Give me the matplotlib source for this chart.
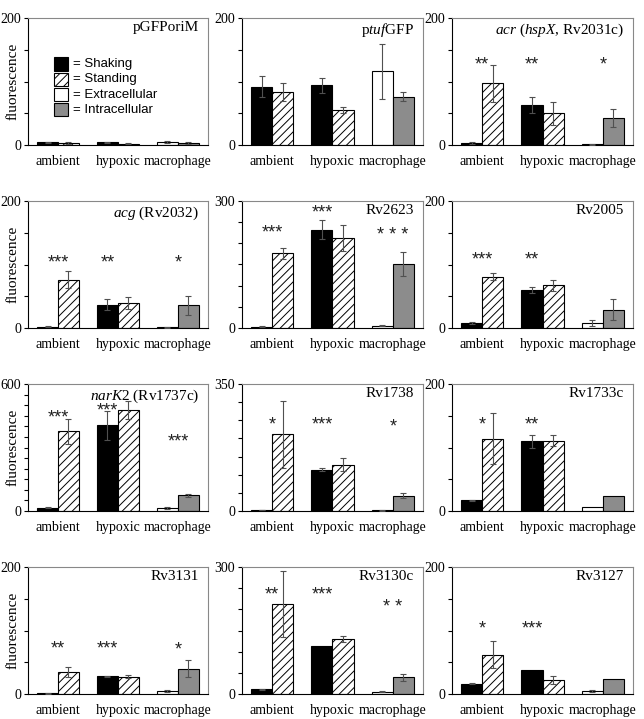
import numpy as np
import matplotlib
matplotlib.use("Agg")
import matplotlib.pyplot as plt
from matplotlib.patches import Rectangle

plt.rcParams["font.family"] = "Liberation Serif"
plt.rcParams["mathtext.fontset"] = "custom"
plt.rcParams["mathtext.rm"] = "Liberation Serif"
plt.rcParams["mathtext.it"] = "Liberation Serif:italic"
plt.rcParams["hatch.linewidth"] = 0.7

# ---- data -----------------------------------------------------------------
titles = ["pGFPoriM", r"p$\mathit{tuf}$GFP", r"$\mathit{acr}$ ($\mathit{hspX}$, Rv2031c)",
          r"$\mathit{acg}$ (Rv2032)", "Rv2623", "Rv2005",
          r"$\mathit{narK2}$ (Rv1737c)", "Rv1738", "Rv1733c",
          "Rv3131", "Rv3130c", "Rv3127"]
ymax  = [200, 200, 200, 200, 300, 200, 600, 350, 200, 200, 300, 200]
ystep = [50, 50, 50, 50, 50, 50, 50, 50, 50, 50, 50, 50]

categories = ["ambient", "hypoxic", "macrophage"]

shaking_ambient  = [4, 92, 3, 2, 3, 8, 16, 3, 17, 1, 11, 16]
standing_ambient = [3, 84, 97, 76, 176, 81, 376, 211, 114, 35, 213, 62]
shaking_hypoxic  = [4, 94, 63, 37, 232, 60, 404, 114, 110, 28, 114, 38]
standing_hypoxic = [2, 55, 50, 39, 212, 67, 479, 128, 111, 27, 131, 22]
extracellular    = [5, 116, 1, 1, 5, 8, 14, 2, 7, 4, 5, 4]
intracellular    = [3, 76, 42, 36, 152, 29, 74, 42, 24, 40, 39, 24]

err_shaking_ambient  = [1, 16, 1, 0.5, 1, 1, 3, 1, 1, 0.5, 1, 1]
err_standing_ambient = [1, 14, 29, 13, 12, 6, 61, 92, 40, 8, 78, 21]
err_shaking_hypoxic  = [1, 12, 13, 8.5, 22, 5, 68, 5, 10, 1, 0, 0]
err_standing_hypoxic = [0.5, 5, 18, 9.5, 31, 8.5, 42, 17, 9, 2.5, 7, 7]
err_extracellular    = [2, 43, 0.5, 0.5, 1, 5, 3, 1, 0, 1.6, 1, 1.6]
err_intracellular    = [1, 7, 14, 15, 28, 17, 8, 7.5, 0, 13.6, 9, 0]

stars = [["", "", ""], ["", "", ""], ["**", "**", "*"],
         ["***", "**", "*"], ["***", "***", "* * *"], ["***", "**", ""],
         ["***", "***", "***"], ["*", "***", "*"], ["*", "**", ""],
         ["**", "***", "*"], ["**", "***", "* *"], ["*", "***", ""]]
star_y = [[0, 0, 0], [0, 0, 0], [130, 130, 130],
          [107, 107, 107], [231, 278, 225], [112, 112, 0],
          [453, 488, 340], [244, 244, 241], [140, 140, 0],
          [75, 75, 74], [240, 240, 211], [107, 107, 0]]

legend_labels = ["= Shaking", "= Standing", "= Extracellular", "= Intracellular"]

# ---- styles ---------------------------------------------------------------
GREY = "#8c8c8c"
ERR  = "#505050"
styles = [dict(facecolor="black", hatch=None),
          dict(facecolor="white", hatch="////"),
          dict(facecolor="white", hatch=None),
          dict(facecolor=GREY, hatch=None)]

W, H = 644, 719
col_left = [28, 242, 452]
col_w = [180, 181, 181]
row_top = [18, 201, 384, 567]
row_h = 127
BW = 0.35

fig = plt.figure(figsize=(W / 100, H / 100), dpi=100)

for i in range(12):
    r, c = divmod(i, 3)
    ax = fig.add_axes([col_left[c] / W, 1 - (row_top[r] + row_h) / H,
                       col_w[c] / W, row_h / H])

    groups = [
        (0, shaking_ambient[i], err_shaking_ambient[i], 0),
        (0, standing_ambient[i], err_standing_ambient[i], 1),
        (1, shaking_hypoxic[i], err_shaking_hypoxic[i], 0),
        (1, standing_hypoxic[i], err_standing_hypoxic[i], 1),
        (2, extracellular[i], err_extracellular[i], 2),
        (2, intracellular[i], err_intracellular[i], 3),
    ]
    for k, (gx, val, err, st) in enumerate(groups):
        xpos = gx + (-BW / 2 if k % 2 == 0 else BW / 2)
        ax.bar(xpos, val, width=BW, edgecolor="black", linewidth=0.8,
               facecolor=styles[st]["facecolor"], hatch=styles[st]["hatch"],
               zorder=2)
        if err > 0:
            ax.errorbar(xpos, val, yerr=err, fmt="none", ecolor=ERR,
                        elinewidth=0.8, capsize=2, capthick=0.8, zorder=3)

    # significance stars (hypoxic ones sit over the shaking bar)
    for g in range(3):
        if stars[i][g]:
            sx = g - 0.175 if g == 1 else g
            ax.annotate(stars[i][g], (sx, star_y[i][g]), xytext=(0, -3),
                        textcoords="offset pixels", ha="center", va="center",
                        fontsize=13, family="Liberation Sans", color="#222222")

    ax.set_xlim(-0.5, 2.5)
    ax.set_ylim(0, ymax[i])
    ticks = np.arange(0, ymax[i] + 1, ystep[i])
    ax.set_yticks(ticks)
    ax.set_yticklabels([str(t) if t in (0, ymax[i]) else "" for t in ticks])
    ax.tick_params(axis="y", direction="out", length=3, width=0.8,
                   labelsize=10, pad=2)
    ax.set_xticks(range(3))
    ax.set_xticklabels(categories)
    ax.tick_params(axis="x", length=0, labelsize=10, pad=7)

    for side in ["top", "right"]:
        ax.spines[side].set_color("#888888")
        ax.spines[side].set_linewidth(0.8)
    for side in ["left", "bottom"]:
        ax.spines[side].set_color("black")
        ax.spines[side].set_linewidth(0.8)

    ax.text(0.95, 0.975, titles[i], transform=ax.transAxes, ha="right",
            va="top", fontsize=11)

    if c == 0:
        ax.set_ylabel("fluorescence", fontsize=11)
        ax.yaxis.set_label_coords(-0.045, 0.5)

    if i == 0:
        for j, lab in enumerate(legend_labels):
            yy = 0.585 - j * 0.12
            ax.add_patch(Rectangle((0.144, yy), 0.078, 0.105,
                                   transform=ax.transAxes,
                                   facecolor=styles[j]["facecolor"],
                                   hatch=styles[j]["hatch"],
                                   edgecolor="black", linewidth=0.8))
            ax.text(0.25, yy + 0.052, lab, transform=ax.transAxes,
                    family="Liberation Sans", fontsize=9.5, va="center")

fig.savefig("out.png", dpi=100)
